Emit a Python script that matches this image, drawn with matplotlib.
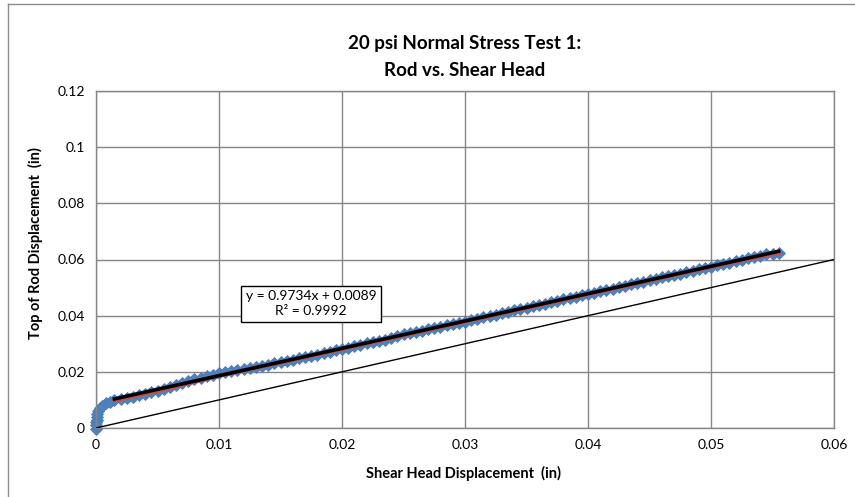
import matplotlib
matplotlib.use('Agg')
import matplotlib.pyplot as plt
from matplotlib.lines import Line2D

plt.rcParams['font.family'] = ['Lato', 'DejaVu Sans']

# measured points: shear head displacement (in) vs top of rod displacement (in)
shear_x = [0.0, 0.0, 0.0, 0.0001, 0.0001, 0.0001, 0.0002, 0.0003, 0.0005, 0.0008, 0.0011,
           0.0015, 0.002, 0.0025, 0.003, 0.0035, 0.004, 0.0045, 0.005, 0.0055, 0.006,
           0.0065, 0.007, 0.0075, 0.008, 0.0085, 0.009, 0.0095, 0.010, 0.0105, 0.011,
           0.0115, 0.012, 0.0125, 0.013, 0.0135, 0.014, 0.0145, 0.015, 0.0155, 0.016,
           0.0165, 0.017, 0.0175, 0.018, 0.0185, 0.019, 0.0195, 0.020, 0.0205, 0.021,
           0.0215, 0.022, 0.0225, 0.023, 0.0235, 0.024, 0.0245, 0.025, 0.0255, 0.026,
           0.0265, 0.027, 0.0275, 0.028, 0.0285, 0.029, 0.0295, 0.030, 0.0305, 0.031,
           0.0315, 0.032, 0.0325, 0.033, 0.0335, 0.034, 0.0345, 0.035, 0.0355, 0.036,
           0.0365, 0.037, 0.0375, 0.038, 0.0385, 0.039, 0.0395, 0.040, 0.0405, 0.041,
           0.0415, 0.042, 0.0425, 0.043, 0.0435, 0.044, 0.0445, 0.045, 0.0455, 0.046,
           0.0465, 0.047, 0.0475, 0.048, 0.0485, 0.049, 0.0495, 0.050, 0.0505, 0.051,
           0.0515, 0.052, 0.0525, 0.053, 0.0535, 0.054, 0.0545, 0.055, 0.0555]
rod_y = [-0.0003, 0.001, 0.002, 0.003, 0.004, 0.005, 0.006, 0.007, 0.008, 0.0088, 0.0094,
         0.0099, 0.0103, 0.0107, 0.0112, 0.0117, 0.0122, 0.0127, 0.0133, 0.0139, 0.0146,
         0.0152, 0.0159, 0.0166, 0.0173, 0.0179, 0.0185, 0.0190, 0.0195, 0.0199, 0.0203,
         0.0207, 0.0211, 0.0214, 0.0218, 0.0222, 0.0226, 0.0230, 0.0235, 0.0239, 0.0243,
         0.0248, 0.0252, 0.0257, 0.0261, 0.0266, 0.0271, 0.0276, 0.0281, 0.0286, 0.0291,
         0.0296, 0.0301, 0.0305, 0.0310, 0.0315, 0.0320, 0.0327, 0.0334, 0.0338, 0.0342,
         0.0346, 0.0351, 0.0356, 0.0361, 0.0365, 0.0370, 0.0375, 0.0379, 0.0384, 0.0389,
         0.0394, 0.0399, 0.0404, 0.0409, 0.0414, 0.0419, 0.0424, 0.0429, 0.0434, 0.0438,
         0.0443, 0.0448, 0.0453, 0.0458, 0.0462, 0.0467, 0.0472, 0.0477, 0.0482, 0.0487,
         0.0492, 0.0496, 0.0501, 0.0506, 0.0511, 0.0516, 0.0521, 0.0526, 0.0531, 0.0536,
         0.0540, 0.0545, 0.0550, 0.0555, 0.0560, 0.0565, 0.0570, 0.0575, 0.0580, 0.0584,
         0.0589, 0.0594, 0.0599, 0.0604, 0.0609, 0.0614, 0.0618, 0.0621, 0.0623]

# red series line drawn over the points
red_x = [0.0015, 0.005, 0.010, 0.020, 0.030, 0.040, 0.050, 0.0555]
red_y = [0.0098, 0.0132, 0.0186, 0.0281, 0.0379, 0.0476, 0.0574, 0.0624]

# linear trendline (from the equation on the chart)
slope = 0.9734
intercept = 0.0089
trend_x = [0.0015, 0.0555]

# 1:1 reference line
ref_x = [0.0, 0.06]
ref_y = [0.0, 0.06]

x_ticks = [0, 0.01, 0.02, 0.03, 0.04, 0.05, 0.06]
y_ticks = [0, 0.02, 0.04, 0.06, 0.08, 0.1, 0.12]

fig = plt.figure(figsize=(8.55, 4.97), dpi=100)
ax = fig.add_axes([96 / 855, 1 - 428 / 497, (834 - 96) / 855, (428 - 91) / 497])

grid_c = '#868686'
for t in x_ticks:
    ax.axvline(t, color=grid_c, lw=1.0, zorder=0)
for t in y_ticks:
    ax.axhline(t, color=grid_c, lw=1.0, zorder=0)

ax.plot(shear_x, rod_y, linestyle='none', marker='D', markersize=6.6,
        markerfacecolor='#4F81BD', markeredgecolor='#4A7EBB', markeredgewidth=0.6,
        zorder=2, clip_on=False)
ax.plot(red_x, red_y, color='#C0504D', lw=3.0, zorder=3)
ax.plot(trend_x, [slope * v + intercept for v in trend_x], color='black', lw=2.6, zorder=4)
ax.plot(ref_x, ref_y, color='black', lw=1.0, zorder=4)

ax.set_xlim(0, 0.06)
ax.set_ylim(0, 0.12)
ax.set_xticks(x_ticks)
ax.set_yticks(y_ticks)
ax.set_xticklabels(['0', '0.01', '0.02', '0.03', '0.04', '0.05', '0.06'])
ax.set_yticklabels(['0', '0.02', '0.04', '0.06', '0.08', '0.1', '0.12'])
ax.tick_params(length=0, labelsize=10, pad=8, colors='black')
for s in ax.spines.values():
    s.set_color(grid_c)
    s.set_linewidth(1.0)

ax.text(0.5 * (0.01163 + 0.02333), 0.0442,
        f'y = {slope}x + {intercept}\nR² = 0.9992',
        ha='center', va='center', fontsize=10, linespacing=1.3, zorder=6,
        bbox=dict(boxstyle='square,pad=0.35', fc='white', ec='black', lw=1.0))

fig.text(465 / 855, 1 - 43 / 497, '20 psi Normal Stress Test 1:', ha='center', va='center',
         fontsize=13.5, fontweight='bold')
fig.text(465 / 855, 1 - 70 / 497, 'Rod vs. Shear Head', ha='center', va='center',
         fontsize=13.5, fontweight='bold')
fig.text(464 / 855, 1 - 473 / 497, 'Shear Head Displacement  (in)', ha='center', va='center',
         fontsize=10.5, fontweight='bold')
fig.text(35 / 855, 1 - 243 / 497, 'Top of Rod Displacement  (in)', ha='center', va='center',
         rotation=90, fontsize=10.5, fontweight='bold')

# chart area border (left and top edges visible)
fig.add_artist(Line2D([8 / 855, 8 / 855], [0, 1 - 4 / 497], transform=fig.transFigure,
                      color='#8C8C8C', lw=1.0))
fig.add_artist(Line2D([8 / 855, 1], [1 - 4 / 497, 1 - 4 / 497], transform=fig.transFigure,
                      color='#8C8C8C', lw=1.0))

fig.savefig('out.png', dpi=100)
